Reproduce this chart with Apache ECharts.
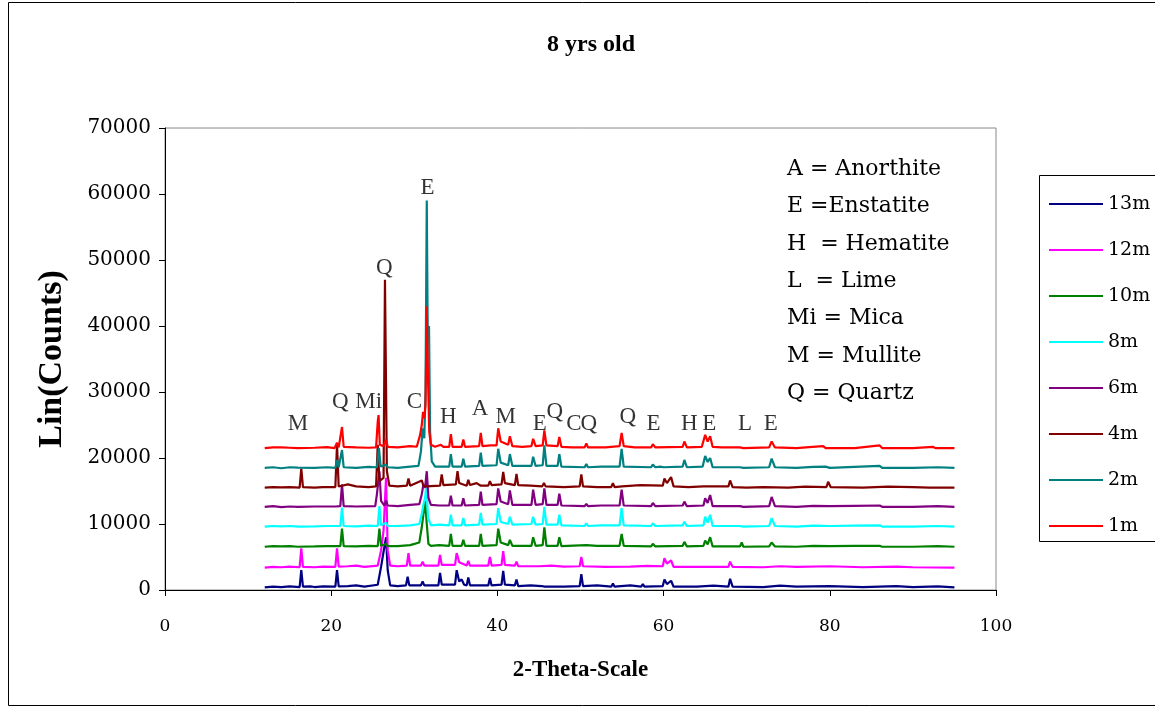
<!DOCTYPE html>
<html><head><meta charset="utf-8">
<script src="https://cdn.jsdelivr.net/npm/echarts@6/dist/echarts.min.js"></script>
<style>html,body{margin:0;padding:0;background:#fff}#c{width:1155px;height:711px}</style>
</head><body><div id="c"></div>
<script>
const seriesNames = ["13m","12m","10m","8m","6m","4m","2m","1m"];
const seriesColors = ["#000080","#FF00FF","#008000","#00FFFF","#800080","#800000","#008080","#FF0000"];
const xTicks = [0,20,40,60,80,100];
const yTicks = [0,10000,20000,30000,40000,50000,60000,70000];

const s13m = [[12,400],[13,500],[14,450],[15,550],[16.2,450],[16.4,3000],[16.6,500],[17.5,550],[18,450],[19,550],[20.5,500],[20.7,3000],[20.9,550],[22,600],[23,700],[24,500],[25.6,800],[26.0,3500],[26.3,5800],[26.6,8000],[26.8,3000],[27.1,700],[28,600],[29.0,700],[29.2,2000],[29.4,700],[30.8,700],[31.0,1300],[31.2,700],[32.9,700],[33.1,2600],[33.3,800],[34.9,800],[35.1,3000],[35.4,1300],[35.7,1600],[36.0,800],[36.3,700],[36.5,1900],[36.7,700],[38.9,700],[39.1,1800],[39.3,700],[40.5,800],[40.7,2900],[40.9,800],[42.1,700],[42.3,1600],[42.5,600],[44,700],[45.3,600],[45.5,900],[45.7,500],[48,500],[49.9,600],[50.1,2400],[50.3,600],[52,700],[53.7,500],[53.9,1000],[54.1,500],[56,700],[57.3,500],[57.5,900],[57.7,500],[59.9,600],[60.1,1600],[60.4,900],[60.9,1400],[61.2,500],[64,500],[66,650],[67.8,500],[68.0,1700],[68.3,500],[72,450],[74,650],[76,500],[80,600],[84,450],[88,600],[90,450],[93,550],[95,400]];
const s12m = [[12,3400],[13,3500],[14,3450],[15,3550],[16.2,3450],[16.4,6300],[16.6,3500],[18,3450],[19,3550],[20.5,3500],[20.7,6300],[20.9,3550],[22,3600],[23,3700],[24,3500],[25.6,3700],[26.0,6000],[26.3,9000],[26.6,17000],[26.8,6000],[27.1,3700],[28,3600],[29.1,3700],[29.3,5600],[29.5,3700],[30.8,3700],[31.0,4300],[31.2,3700],[32.9,3700],[33.1,5300],[33.3,3800],[34.9,3800],[35.1,5600],[35.4,4200],[36.3,3700],[36.5,4400],[36.7,3700],[38.9,3700],[39.1,5000],[39.3,3700],[40.5,3800],[40.7,5900],[40.9,3800],[42.1,3700],[42.3,4300],[42.5,3600],[45,3600],[46.5,3700],[48,3550],[49.9,3600],[50.1,5000],[50.3,3600],[53,3500],[56,3550],[58,3650],[59.9,3600],[60.1,4800],[60.4,4000],[60.9,4500],[61.2,3500],[64,3500],[67.8,3500],[68.0,4300],[68.3,3500],[72,3450],[74,3600],[76,3500],[80,3600],[84,3450],[88,3550],[90,3450],[95,3400]];
const s10m = [[12,6550],[13,6650],[14,6600],[15,6650],[16,6550],[18,6600],[19.5,6650],[21.1,6650],[21.3,9300],[21.5,6650],[23,6600],[24.5,6700],[25.6,6650],[25.8,9300],[26.0,6700],[26.6,7000],[26.8,6650],[28,6650],[29.5,6800],[30.6,7200],[30.9,9500],[31.1,11500],[31.3,13500],[31.5,10000],[31.7,7000],[32,6700],[33,6800],[34.2,6700],[34.4,8500],[34.6,6700],[35.7,6700],[35.9,7600],[36.1,6700],[37.8,6700],[38,8500],[38.2,6700],[39.9,6800],[40.1,9300],[40.4,7200],[41.3,6800],[41.5,7600],[41.8,6700],[44.1,6700],[44.3,8000],[44.6,6700],[45.45,6800],[45.65,9500],[45.9,6700],[47.25,6700],[47.45,8000],[47.7,6650],[50.7,6800],[52,6700],[54.7,6700],[54.95,8500],[55.2,6700],[58.5,6600],[58.7,7000],[59,6600],[62.3,6700],[62.5,7300],[62.8,6600],[64.8,6700],[65,7500],[65.3,6900],[65.6,8000],[65.9,6600],[69.2,6600],[69.4,7200],[69.6,6550],[72.7,6600],[73,7200],[73.4,6600],[76,6550],[78,6700],[80,6650],[83,6700],[86,6700],[86.3,6550],[90,6550],[93,6650],[95,6550]];
const s8m = [[12,9600],[13,9700],[14,9650],[15,9700],[16,9600],[18,9650],[19.5,9700],[21.1,9700],[21.3,12500],[21.5,9700],[23,9650],[24.5,9750],[25.6,9700],[25.8,12700],[26.0,9800],[26.6,10200],[26.8,9700],[28,9700],[29.5,9800],[30.6,10000],[30.9,11500],[31.1,13000],[31.3,14000],[31.45,16000],[31.65,11000],[32,9800],[33,9900],[34.2,9800],[34.4,11400],[34.6,9800],[35.7,9800],[35.9,10900],[36.1,9800],[37.8,9900],[38,11700],[38.2,9900],[39.9,10000],[40.1,12400],[40.4,10300],[41.3,10000],[41.5,11100],[41.8,9900],[44.1,10000],[44.3,11100],[44.6,9900],[45.45,10000],[45.65,12600],[45.9,9900],[47.25,9900],[47.45,11400],[47.7,9800],[50.5,9700],[50.7,10100],[50.9,9700],[52.5,9800],[54.7,9800],[54.95,12400],[55.2,9800],[58.5,9700],[58.7,10100],[59,9700],[62.3,9800],[62.5,10350],[62.8,9700],[64.8,9800],[65,11100],[65.3,10200],[65.6,11400],[65.9,9700],[69.2,9700],[69.4,10000],[69.6,9600],[72.7,9700],[73,10900],[73.4,9700],[76,9600],[78,9750],[80,9700],[83,9750],[86,9800],[86.3,9600],[90,9600],[93,9700],[95,9600]];
const s6m = [[12,12600],[13,12700],[14,12550],[15,12650],[16,12600],[18,12650],[20.5,12650],[21.1,12700],[21.3,16000],[21.5,12700],[23,12650],[25.3,12700],[25.5,14500],[25.8,18000],[26.0,13500],[26.4,12800],[26.6,13600],[26.8,12800],[28,12700],[29.5,12900],[30.6,13000],[30.9,14500],[31.1,16000],[31.3,15500],[31.5,18000],[31.7,14000],[32,12900],[33,12800],[34.2,12800],[34.4,14300],[34.6,12800],[35.7,12800],[35.9,13900],[36.1,12800],[37.8,12900],[38,14900],[38.2,12900],[39.9,13000],[40.1,15400],[40.4,13400],[41.3,13000],[41.5,15100],[41.8,12900],[44.1,12900],[44.3,15200],[44.6,12900],[45.45,13000],[45.65,15400],[45.9,12900],[47.25,12900],[47.45,14600],[47.7,12800],[50.5,12700],[50.7,13050],[50.9,12700],[52.5,12800],[54.7,12800],[54.95,15200],[55.2,12800],[58.5,12700],[58.7,13200],[59,12700],[62.3,12800],[62.5,13400],[62.8,12700],[64.8,12800],[65,13900],[65.3,13200],[65.6,14400],[65.9,12700],[69.2,12700],[69.4,13000],[69.6,12600],[72.7,12700],[73,14100],[73.4,12700],[76,12600],[78,12750],[80,12700],[83,12750],[86,12800],[86.3,12600],[90,12600],[93,12700],[95,12600]];
const s4m = [[12,15500],[13,15600],[14,15550],[15,15600],[16.2,15500],[16.4,18400],[16.6,15600],[18,15500],[19,15600],[20.5,15600],[20.7,22000],[20.9,15700],[21.3,15800],[22,16000],[23,15700],[24.5,15600],[25.4,15700],[25.6,22000],[25.8,16500],[26.3,17000],[26.47,47000],[26.7,18000],[27,15800],[28,15700],[29.1,15800],[29.3,16900],[29.5,15800],[30.9,16600],[31.1,15800],[31.4,15700],[33.1,15800],[33.3,17500],[33.5,15900],[35.0,16000],[35.2,18000],[35.4,16200],[36.3,15800],[36.5,16700],[36.7,15900],[37.5,16200],[38,15800],[38.9,15800],[39.1,16500],[39.3,15900],[40.5,16000],[40.7,17900],[40.9,16200],[42.1,15900],[42.3,17600],[42.5,15900],[44,15800],[45.4,15700],[45.6,16200],[45.8,15700],[48,15600],[49.9,15700],[50.1,17500],[50.3,15700],[52,15600],[53.7,15600],[53.9,16200],[54.1,15600],[55,15700],[57.2,15900],[57.4,15600],[59.9,15800],[60.1,16900],[60.4,16200],[60.9,17100],[61.2,15700],[63,15600],[64.8,15700],[65,15500],[67.8,15700],[68.0,16600],[68.3,15600],[70,15500],[72,15600],[75,15500],[77,15650],[79.6,15600],[79.8,16400],[80.1,15600],[84,15500],[87,15650],[90,15600],[92,15500],[95,15500]];
const s2m = [[12,18500],[13,18600],[14,18450],[15,18600],[16,18550],[18,18500],[19.5,18600],[20.5,18500],[20.7,19700],[20.9,18600],[21.1,18600],[21.3,21200],[21.5,18600],[23,18500],[24.5,18650],[25.5,18600],[25.75,21500],[25.95,18700],[26.6,19000],[26.8,18600],[28,18500],[29.5,18700],[30.5,18800],[30.8,21000],[31.0,24500],[31.2,23000],[31.35,30000],[31.5,59000],[31.62,38000],[31.77,40000],[31.9,24000],[32.1,19500],[32.5,18700],[33.5,18700],[34.2,18700],[34.4,20600],[34.6,18700],[35.7,18700],[35.9,19900],[36.1,18700],[37.8,18800],[38.0,20800],[38.2,18800],[39.9,18900],[40.1,21400],[40.4,19300],[41.3,18900],[41.5,20600],[41.8,18800],[44.1,18800],[44.3,20200],[44.6,18800],[45.45,18900],[45.65,21900],[45.9,18800],[47.25,18800],[47.45,20600],[47.7,18700],[50.5,18600],[50.7,19100],[50.9,18600],[52.5,18700],[54.7,18700],[54.95,21400],[55.2,18700],[58.5,18600],[58.7,19000],[59,18600],[59.6,18700],[59.8,19000],[60.0,18600],[62.3,18700],[62.5,19700],[62.8,18600],[64.7,18700],[65.0,20300],[65.3,19400],[65.6,20000],[65.9,18600],[69.2,18600],[69.4,18900],[69.6,18500],[72.7,18600],[73.0,19900],[73.4,18600],[76,18500],[78,18650],[79.5,18700],[80,18500],[83,18650],[86,18800],[86.3,18500],[90,18500],[93,18600],[95,18500]];
const s1m = [[12,21500],[13,21600],[14,21600],[15,21550],[16,21500],[18,21550],[19.5,21650],[20.4,21500],[20.7,22300],[20.9,21600],[21.1,21700],[21.3,24700],[21.5,21700],[23,21600],[24.5,21550],[25.4,21600],[25.6,25500],[25.7,26500],[25.85,22000],[26.3,21800],[26.6,22800],[26.8,21700],[28,21600],[29.5,21800],[30.3,21700],[30.7,23500],[30.9,25000],[31.05,27000],[31.2,26000],[31.35,28000],[31.5,43000],[31.65,32000],[31.8,24000],[32,22000],[32.5,21700],[33.2,22000],[33.5,21700],[34.2,21700],[34.4,23600],[34.6,21700],[35.7,21700],[35.9,22800],[36.1,21700],[37.8,21800],[38.0,23800],[38.2,21800],[39.2,21900],[39.9,21900],[40.1,24500],[40.4,22500],[41.3,22000],[41.5,23300],[41.8,21800],[43,21700],[44.1,21800],[44.3,22900],[44.6,21800],[45.45,21900],[45.65,24200],[45.9,21900],[47.25,21800],[47.45,23200],[47.7,21700],[49,21600],[50.5,21600],[50.7,22200],[50.9,21600],[53,21600],[54.7,21800],[54.95,23800],[55.2,21800],[56.5,21600],[58.5,21600],[58.7,22100],[59,21600],[62.3,21700],[62.5,22500],[62.8,21600],[64.6,21700],[65.0,23500],[65.3,22500],[65.6,23300],[65.9,21700],[67,21600],[69.2,21600],[69.4,21900],[69.6,21500],[72.7,21600],[73.0,22500],[73.4,21600],[76,21500],[77.5,21650],[79.2,21800],[79.5,21500],[83,21500],[86,21900],[86.3,21500],[90,21500],[92.4,21700],[92.7,21500],[95,21500]];
const seriesData = [s13m,s12m,s10m,s8m,s6m,s4m,s2m,s1m];

// peak annotation letters (2-theta, counts, text)
const annoX = [16.0,21.1,24.5,26.4,31.6,30.0,34.1,37.9,41.0,45.1,46.9,49.2,51.0,55.7,58.8,63.1,65.5,69.8,72.9];
const annoY = [25100,28500,28500,48800,60900,28500,26200,27400,26200,25100,27000,25100,25100,26200,25100,25100,25100,25100,25100];
const annoText = ["M","Q","Mi","Q","E","C","H","A","M","E","Q","C","Q","Q","E","H","E","L","E"];
const keyLines = ["A = Anorthite","E =Enstatite","H  = Hematite","L  = Lime","Mi = Mica","M = Mullite","Q = Quartz"];

const FONT = '"Liberation Serif", "Times New Roman", serif';
const WFONT = '"DejaVu Serif", "Liberation Serif", serif';
const chart = echarts.init(document.getElementById('c'));

const series = seriesNames.map((n,i)=>({
  name:n, type:'line', data:seriesData[i], showSymbol:false, symbol:'none',
  lineStyle:{color:seriesColors[i], width:2.2}, itemStyle:{color:seriesColors[i]},
  animation:false, z:2+i
}));
series.push({
  name:'annotations', type:'scatter', symbolSize:0, silent:true, animation:false, z:20,
  data: annoX.map((x,i)=>({value:[x,annoY[i]], name:annoText[i]})),
  label:{show:true, position:'inside', formatter:'{b}', color:'#000', fontFamily:FONT, fontSize:23}
});

const graphics = [
  {type:'rect', shape:{x:8.5,y:2.5,width:1160,height:703}, style:{fill:'none',stroke:'#000',lineWidth:1}, silent:true},
  {type:'rect', shape:{x:1039.5,y:175.5,width:130,height:366}, style:{fill:'#fff',stroke:'#000',lineWidth:1}, silent:true, z:-1}
];
keyLines.forEach((t,i)=>graphics.push({type:'text', left:787, top:158+i*37.4,
  style:{text:t, fontFamily:WFONT, fontSize:22, fill:'#000'}, silent:true, z:30}));

chart.setOption({
  backgroundColor:'#fff',
  animation:false,
  title:{text:'8 yrs old', left:586, top:28, textAlign:'center',
    textStyle:{fontFamily:FONT, fontWeight:'bold', fontSize:24, color:'#000'}},
  grid:{left:165, right:159, top:128, bottom:121, show:true, borderColor:'#888', borderWidth:1},
  legend:{data:seriesNames, orient:'vertical', left:1044, top:189, itemGap:26,
    icon:'rect', itemWidth:54, itemHeight:2,
    textStyle:{fontFamily:WFONT, fontSize:19, color:'#000', lineHeight:20}},
  xAxis:{type:'value', min:0, max:100, interval:20,
    name:'2-Theta-Scale', nameLocation:'middle', nameGap:69,
    nameTextStyle:{fontFamily:FONT, fontWeight:'bold', fontSize:23, color:'#000'},
    axisLine:{lineStyle:{color:'#000'}}, axisTick:{show:true, length:6, lineStyle:{color:'#000'}},
    axisLabel:{fontFamily:WFONT, fontSize:17, color:'#000', margin:28},
    splitLine:{show:false}},
  yAxis:{type:'value', min:0, max:70000, interval:10000,
    name:'Lin(Counts)', nameLocation:'middle', nameGap:96,
    nameTextStyle:{fontFamily:FONT, fontWeight:'bold', fontSize:34, color:'#000'},
    axisLine:{show:true, lineStyle:{color:'#000'}}, axisTick:{show:true, length:6, lineStyle:{color:'#000'}},
    axisLabel:{fontFamily:WFONT, fontSize:20, color:'#000', margin:14, formatter:(v)=>String(v)},
    splitLine:{show:false}},
  graphic:graphics,
  series:series
});
</script></body></html>
